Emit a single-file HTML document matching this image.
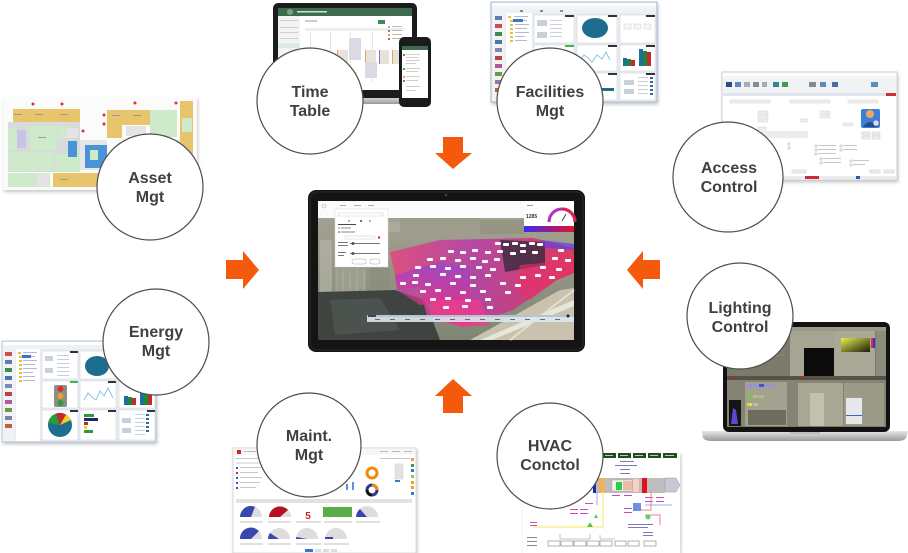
<!DOCTYPE html>
<html><head><meta charset="utf-8">
<style>
html,body{margin:0;padding:0;background:#fff;}
svg{display:block;}
text{font-family:"Liberation Sans",sans-serif;}
</style></head><body>
<svg width="908" height="553" viewBox="0 0 908 553" xmlns="http://www.w3.org/2000/svg">
<defs>
 <linearGradient id="bld" x1="0" y1="0" x2="1" y2="0">
  <stop offset="0" stop-color="#e8457e"/><stop offset=".45" stop-color="#b83aa8"/><stop offset="1" stop-color="#ea2a55"/>
 </linearGradient>
 <linearGradient id="bld2" x1="0" y1="0" x2="0" y2="1">
  <stop offset="0" stop-color="#8f48d8"/><stop offset="1" stop-color="#e0308a"/>
 </linearGradient>
 <linearGradient id="gbar" x1="0" x2="1"><stop offset="0" stop-color="#3a2cf0"/><stop offset="1" stop-color="#e8102a"/></linearGradient>
 <linearGradient id="sky" x1="0" y1="0" x2="0" y2="1"><stop offset="0" stop-color="#a8a596"/><stop offset="1" stop-color="#7f8574"/></linearGradient>
 <linearGradient id="silver" x1="0" y1="0" x2="0" y2="1"><stop offset="0" stop-color="#e6e6e6"/><stop offset="1" stop-color="#9a9a9a"/></linearGradient>
 <linearGradient id="lgbox" x1="0" y1="0" x2="1" y2="1"><stop offset="0" stop-color="#e8f04a"/><stop offset="1" stop-color="#1b1b10"/></linearGradient>
 <filter id="sh" x="-5%" y="-5%" width="115%" height="120%"><feDropShadow dx="1" dy="2" stdDeviation="1.5" flood-color="#000" flood-opacity=".22"/></filter>
</defs>

<!-- ===== Asset floor plan ===== -->
<g filter="url(#sh)"><rect x="3" y="97" width="194" height="93" fill="#fbfbfb"/></g>
<g>
 <rect x="8" y="122" width="72" height="50" fill="#d6dcd8"/>
 <rect x="13" y="109" width="67" height="13" fill="#e8c46c"/>
 <rect x="8" y="128" width="9" height="22" fill="#cfe9cb"/>
 <rect x="17" y="130" width="9" height="18" fill="#c9c4e6"/>
 <rect x="30" y="126" width="27" height="24" fill="#cfe9cb"/>
 <rect x="59" y="126" width="8" height="12" fill="#cfe9cb"/>
 <rect x="8" y="152" width="17" height="19" fill="#cfe9cb"/>
 <rect x="26" y="152" width="27" height="19" fill="#cfe9cb"/>
 <rect x="55" y="154" width="25" height="18" fill="#cfe9cb"/>
 <rect x="67" y="128" width="11" height="10" fill="#e4e4e4"/>
 <rect x="68" y="141" width="9" height="16" fill="#4a93d6"/>
 <rect x="8" y="173" width="42" height="14" fill="#cfe9cb"/>
 <rect x="53" y="173" width="47" height="14" fill="#e8c46c"/>
 <rect x="37" y="174" width="12" height="12" fill="#e4e4e4"/>
 <rect x="80" y="140" width="27" height="30" fill="#e6e6e6"/>
 <rect x="85" y="145" width="22" height="23" fill="#4a93d6"/>
 <rect x="90" y="150" width="8" height="10" fill="#cfe9cb"/>
 <rect x="107" y="110" width="60" height="15" fill="#e8c46c"/>
 <rect x="107" y="125" width="15" height="13" fill="#e8c46c"/>
 <rect x="126" y="126" width="20" height="10" fill="#e4e4e4"/>
 <rect x="150" y="110" width="27" height="27" fill="#cfe9cb"/>
 <rect x="152" y="140" width="28" height="30" fill="#cfe9cb"/>
 <rect x="110" y="150" width="20" height="20" fill="#e6e6e6"/>
 <rect x="180" y="101" width="13" height="88" fill="#e8c46c"/>
 <rect x="182" y="118" width="10" height="14" fill="#cfe9cb"/>
 <rect x="100" y="173" width="20" height="14" fill="#e8c46c"/>
 <g fill="#e03030"><circle cx="33" cy="104" r="1.5"/><circle cx="62" cy="104" r="1.5"/><circle cx="83" cy="131" r="1.5"/><circle cx="135" cy="103" r="1.5"/><circle cx="104" cy="115" r="1.5"/><circle cx="104" cy="124" r="1.5"/><circle cx="176" cy="103" r="1.5"/></g>
 <g fill="#999"><rect x="14" y="114" width="8" height="1"/><rect x="35" y="114" width="8" height="1"/><rect x="60" y="114" width="8" height="1"/><rect x="112" y="115" width="8" height="1"/><rect x="133" y="115" width="8" height="1"/><rect x="38" y="137" width="8" height="1"/><rect x="60" y="179" width="8" height="1"/></g>
</g>

<!-- ===== Time Table monitor ===== -->
<rect x="355" y="96" width="46" height="8" rx="2" fill="url(#silver)"/>
<rect x="273" y="3" width="144" height="95" rx="5" fill="#1c1c1c"/>
<rect x="278" y="8" width="134" height="82" fill="#ffffff"/>
<rect x="278" y="8" width="134" height="8" fill="#3d6b4d"/>
<circle cx="290" cy="12" r="3" fill="#7c9f86"/>
<rect x="297" y="11" width="30" height="1.5" fill="#cfe0d4"/>
<rect x="278" y="16" width="22" height="74" fill="#f3f3f3"/>
<g fill="#d0d0d0"><rect x="280" y="20" width="18" height="1"/><rect x="280" y="27" width="18" height="1"/><rect x="280" y="32" width="18" height="1"/><rect x="280" y="38" width="18" height="1"/></g>
<rect x="278" y="43" width="22" height="5" fill="#dcebe0"/>
<rect x="305" y="20" width="12" height="2" fill="#ccc"/>
<rect x="378" y="20" width="7" height="4" fill="#3d8a55"/>
<rect x="305" y="28" width="100" height="3" fill="#ededed"/>
<g fill="#e4e4e4"><rect x="310" y="32" width="1" height="50"/><rect x="330" y="32" width="1" height="50"/><rect x="350" y="32" width="1" height="50"/><rect x="372" y="32" width="1" height="50"/></g>
<rect x="349" y="38" width="12" height="22" fill="#dcd9e6"/>
<g fill="#e9e2dc"><rect x="337" y="50" width="11" height="14"/><rect x="365" y="50" width="11" height="14"/><rect x="379" y="50" width="10" height="14"/><rect x="392" y="50" width="10" height="14"/></g>
<g fill="#f0a050"><rect x="337" y="50" width="1" height="14"/><rect x="365" y="50" width="1" height="14"/><rect x="392" y="50" width="1" height="14"/></g>
<rect x="379" y="50" width="1" height="14" fill="#8a70c0"/>
<rect x="365" y="62" width="12" height="16" fill="#dcd9e6"/>
<rect x="345" y="72" width="12" height="10" fill="#e9e2dc"/>
<g><rect x="388" y="26" width="2" height="2" fill="#f0a050"/><rect x="388" y="30" width="2" height="2" fill="#8a70c0"/><rect x="388" y="34" width="2" height="2" fill="#f0a050"/><rect x="388" y="38" width="2" height="2" fill="#e05050"/><rect x="392" y="26" width="10" height="1" fill="#bbb"/><rect x="392" y="30" width="10" height="1" fill="#bbb"/><rect x="392" y="34" width="10" height="1" fill="#bbb"/><rect x="392" y="38" width="10" height="1" fill="#bbb"/></g>
<!-- phone -->
<rect x="399" y="37" width="32" height="70" rx="5" fill="#1b1b1b"/>
<rect x="402" y="46" width="26" height="52" fill="#fff"/>
<rect x="402" y="46" width="26" height="4" fill="#3d6b4d"/>
<g fill="#cfcfcf"><rect x="406" y="54" width="14" height="1"/><rect x="406" y="57" width="12" height="1"/><rect x="406" y="60" width="14" height="1"/><rect x="406" y="63" width="10" height="1"/><rect x="406" y="68" width="14" height="1"/><rect x="406" y="71" width="12" height="1"/><rect x="406" y="76" width="14" height="1"/><rect x="406" y="80" width="12" height="1"/><rect x="406" y="86" width="14" height="1"/><rect x="406" y="90" width="10" height="1"/></g>
<g fill="#4c9a60"><rect x="403" y="54" width="2" height="2"/><rect x="403" y="68" width="2" height="2"/><rect x="403" y="80" width="2" height="2"/></g>
<rect x="403" y="76" width="2" height="2" fill="#f0a050"/>

<!-- ===== Facilities screenshot ===== -->
<g filter="url(#sh)"><rect x="491" y="2" width="166" height="100" fill="#e9edf2" stroke="#a8bcd4" stroke-width="1"/></g>
<rect x="492" y="3" width="164" height="3" fill="#fff"/>
<rect x="492" y="6" width="164" height="3" fill="#f4f4f4"/>
<rect x="492" y="9" width="164" height="4" fill="#eef2f7"/>
<g fill="#6da06a"><rect x="520" y="10" width="3" height="2"/><rect x="540" y="10" width="3" height="2"/><rect x="560" y="10" width="3" height="2"/></g>
<rect x="492" y="13" width="13" height="88" fill="#f2f2f2"/>
<g><rect x="495" y="16" width="7" height="4" fill="#5a7db8"/><rect x="495" y="24" width="7" height="4" fill="#c85050"/><rect x="495" y="32" width="7" height="4" fill="#3a8a55"/><rect x="495" y="40" width="7" height="4" fill="#4a76b0"/><rect x="495" y="48" width="7" height="4" fill="#7a8ab0"/><rect x="495" y="56" width="7" height="4" fill="#c04040"/><rect x="495" y="64" width="7" height="4" fill="#b05a9a"/><rect x="495" y="72" width="7" height="4" fill="#6a9a4a"/><rect x="495" y="80" width="7" height="4" fill="#8080a0"/><rect x="495" y="88" width="7" height="4" fill="#c06040"/></g>
<rect x="506" y="13" width="26" height="88" fill="#fff"/>
<g fill="#e8c040"><rect x="508" y="16" width="3" height="2"/><rect x="510" y="20" width="3" height="2"/><rect x="510" y="24" width="3" height="2"/><rect x="510" y="28" width="3" height="2"/><rect x="510" y="32" width="3" height="2"/><rect x="510" y="36" width="3" height="2"/><rect x="510" y="40" width="3" height="2"/></g>
<g fill="#b8b8c8"><rect x="514" y="16" width="14" height="1"/><rect x="515" y="20" width="12" height="1"/><rect x="515" y="24" width="14" height="1"/><rect x="515" y="28" width="12" height="1"/><rect x="515" y="32" width="14" height="1"/><rect x="515" y="36" width="10" height="1"/><rect x="515" y="40" width="12" height="1"/></g>
<rect x="513" y="19" width="10" height="3" fill="#3a78d0"/>
<g fill="#fff" stroke="#d4d8de" stroke-width=".6">
 <rect x="534" y="15" width="40" height="28"/><rect x="577" y="15" width="40" height="28"/><rect x="620" y="15" width="35" height="28"/>
 <rect x="534" y="45" width="40" height="26"/><rect x="577" y="45" width="40" height="26"/><rect x="620" y="45" width="35" height="26"/>
 <rect x="534" y="73" width="40" height="27"/><rect x="577" y="73" width="40" height="27"/><rect x="620" y="73" width="35" height="27"/>
</g>
<g fill="#333"><rect x="565" y="15" width="9" height="2"/><rect x="608" y="15" width="9" height="2"/><rect x="646" y="15" width="9" height="2"/><rect x="608" y="45" width="9" height="2"/><rect x="646" y="45" width="9" height="2"/><rect x="608" y="73" width="9" height="2"/><rect x="646" y="73" width="9" height="2"/></g>
<rect x="565" y="45" width="9" height="2" fill="#3ab84a"/>
<g fill="#c8d0dc"><rect x="537" y="20" width="10" height="6"/><rect x="537" y="32" width="10" height="6"/><rect x="550" y="20" width="12" height="1"/><rect x="550" y="24" width="12" height="1"/><rect x="550" y="28" width="12" height="1"/><rect x="550" y="32" width="12" height="1"/><rect x="550" y="36" width="12" height="1"/></g>
<ellipse cx="595" cy="28" rx="13" ry="10" fill="#1d6e8e"/>
<g fill="#f4f6f8" stroke="#c8d0da" stroke-width=".5"><rect x="624" y="24" width="7" height="5"/><rect x="634" y="24" width="7" height="5"/><rect x="644" y="24" width="7" height="5"/></g>
<polyline points="580,60 584,55 588,58 592,62 597,55 602,59 606,52 610,60" fill="none" stroke="#8cc4e4" stroke-width="1"/>
<g><rect x="623" y="58" width="4" height="8" fill="#1f6f9a"/><rect x="627" y="59" width="4" height="7" fill="#1a8a3a"/><rect x="631" y="60" width="4" height="6" fill="#c8282a"/><rect x="639" y="49" width="4" height="17" fill="#1f6f9a"/><rect x="643" y="51" width="4" height="15" fill="#1a8a3a"/><rect x="647" y="52" width="4" height="14" fill="#c8282a"/></g>
<rect x="580" y="88" width="34" height="3" fill="#1d6e8e"/>
<g fill="#c8d0dc"><rect x="624" y="80" width="10" height="5"/><rect x="624" y="89" width="10" height="5"/><rect x="638" y="77" width="10" height="1"/><rect x="638" y="81" width="10" height="1"/><rect x="638" y="85" width="10" height="1"/><rect x="638" y="89" width="10" height="1"/><rect x="638" y="93" width="10" height="1"/></g>
<g fill="#3a60a0"><rect x="650" y="77" width="3" height="2"/><rect x="650" y="81" width="3" height="2"/><rect x="650" y="85" width="3" height="2"/><rect x="650" y="89" width="3" height="2"/><rect x="650" y="93" width="3" height="2"/></g>

<!-- ===== Access Control screenshot ===== -->
<g filter="url(#sh)"><rect x="722" y="72" width="175" height="108" fill="#fff" stroke="#c4c4c4" stroke-width=".8"/></g>
<rect x="723" y="76" width="173" height="3" fill="#f6f6f6"/>
<rect x="723" y="79" width="173" height="14" fill="#f1f2f4"/>
<g><rect x="726" y="82" width="6" height="5" fill="#2a4a8a"/><rect x="735" y="82" width="6" height="5" fill="#5a8ac0"/><rect x="744" y="82" width="6" height="5" fill="#aab"/><rect x="753" y="82" width="6" height="5" fill="#889"/><rect x="762" y="82" width="5" height="5" fill="#aaa"/><rect x="773" y="82" width="6" height="5" fill="#2a8a9a"/><rect x="782" y="82" width="6" height="5" fill="#3aa050"/><rect x="809" y="82" width="7" height="5" fill="#889"/><rect x="820" y="82" width="6" height="5" fill="#5a8ac0"/><rect x="832" y="82" width="6" height="5" fill="#4a6aa0"/><rect x="871" y="82" width="7" height="5" fill="#5a8ac0"/></g>
<rect x="723" y="93" width="173" height="3" fill="#dfe5ee"/>
<rect x="886" y="93" width="10" height="3" fill="#d03030"/>
<g fill="#eee" stroke="#ccc" stroke-width=".4"><rect x="730" y="100" width="40" height="3"/><rect x="790" y="100" width="40" height="3"/><rect x="848" y="100" width="30" height="3"/><rect x="758" y="111" width="10" height="3"/><rect x="758" y="115" width="10" height="3"/><rect x="758" y="119" width="10" height="3"/><rect x="800" y="119" width="8" height="3"/><rect x="820" y="111" width="10" height="3"/><rect x="820" y="115" width="10" height="3"/><rect x="843" y="123" width="10" height="3"/><rect x="758" y="127" width="8" height="3"/></g>
<rect x="758" y="131" width="50" height="7" fill="#ececec"/>
<rect x="861" y="109" width="19" height="19" rx="2" fill="#3c7fd8"/>
<circle cx="870" cy="114" r="4" fill="#f0a860"/>
<path d="M863 127 Q870 117 877 127 Z" fill="#234a8a"/>
<circle cx="876" cy="123" r="3" fill="#dde" stroke="#557" stroke-width=".5"/>
<g fill="#eee" stroke="#bbb" stroke-width=".4"><rect x="862" y="132" width="8" height="3"/><rect x="872" y="132" width="8" height="3"/><rect x="862" y="136" width="8" height="3"/><rect x="872" y="136" width="8" height="3"/></g>
<g fill="#fff" stroke="#999" stroke-width=".4"><rect x="815" y="145" width="2" height="2"/><rect x="815" y="149" width="2" height="2"/><rect x="815" y="153" width="2" height="2"/><rect x="840" y="145" width="2" height="2"/><rect x="840" y="149" width="2" height="2"/><rect x="820" y="158" width="2" height="2"/><rect x="820" y="162" width="2" height="2"/><rect x="850" y="160" width="2" height="2"/><rect x="850" y="164" width="2" height="2"/><rect x="788" y="143" width="2" height="2"/><rect x="788" y="147" width="2" height="2"/></g>
<g fill="#c8c8c8"><rect x="818" y="145" width="18" height="1"/><rect x="818" y="149" width="18" height="1"/><rect x="818" y="153" width="18" height="1"/><rect x="843" y="145" width="14" height="1"/><rect x="843" y="149" width="14" height="1"/><rect x="823" y="158" width="18" height="1"/><rect x="823" y="162" width="18" height="1"/><rect x="853" y="160" width="16" height="1"/><rect x="853" y="164" width="12" height="1"/></g>
<g fill="#eee" stroke="#bbb" stroke-width=".4"><rect x="870" y="170" width="10" height="3"/><rect x="884" y="170" width="10" height="3"/><rect x="792" y="170" width="14" height="3"/></g>
<rect x="723" y="176" width="173" height="3" fill="#e8ecf2"/>
<rect x="805" y="176" width="14" height="3" fill="#d02a3a"/>
<rect x="856" y="176" width="4" height="3" fill="#2a5ab0"/>

<!-- ===== Lighting laptop ===== -->
<path d="M702 431 L908 431 L906 438 Q904 441 898 441 L712 441 Q705 441 703 438 Z" fill="url(#silver)"/>
<rect x="790" y="431" width="30" height="3" rx="1.5" fill="#bbb"/>
<rect x="723" y="322" width="167" height="110" rx="6" fill="#121212"/>
<rect x="727" y="327" width="159" height="100" fill="#7b7a6b"/>
<rect x="727" y="327" width="159" height="4" fill="#9a9986"/>
<rect x="790" y="331" width="45" height="45" fill="#a6a493"/>
<rect x="804" y="348" width="30" height="30" fill="#0c0c0c"/>
<rect x="835" y="331" width="40" height="45" fill="#aaa896"/>
<rect x="841" y="338" width="29" height="14" fill="url(#lgbox)"/>
<rect x="871" y="338" width="2" height="10" fill="#e03030"/>
<rect x="873" y="338" width="2" height="10" fill="#3030e0"/>
<rect x="876" y="331" width="10" height="45" fill="#8e8c7c"/>
<rect x="727" y="376" width="159" height="4" fill="#555348"/>
<rect x="732" y="377" width="3" height="2" fill="#c02020"/>
<rect x="800" y="377" width="3" height="2" fill="#c02020"/>
<rect x="727" y="380" width="159" height="46" fill="#858373"/>
<rect x="745" y="382" width="42" height="44" fill="#a3a190"/>
<g fill="#9a90d8"><rect x="747" y="384" width="5" height="3"/><rect x="753" y="384" width="5" height="3"/><rect x="759" y="384" width="5" height="3" fill="#4050e0"/><rect x="765" y="384" width="5" height="3"/><rect x="771" y="384" width="5" height="3"/></g>
<g fill="#6ad040"><rect x="747" y="395" width="5" height="3"/><rect x="753" y="395" width="5" height="3" fill="#b0c080"/><rect x="759" y="395" width="5" height="3" fill="#b0c080"/></g>
<g fill="#d8e040"><rect x="747" y="403" width="5" height="3"/><rect x="753" y="403" width="5" height="3" fill="#c0c090"/></g>
<rect x="748" y="410" width="38" height="15" fill="#6d6c5f"/>
<rect x="729" y="400" width="12" height="26" fill="#151515"/>
<path d="M731 424 L733 408 L736 410 L738 424 Z" fill="#5a4ad0"/>
<rect x="798" y="383" width="45" height="43" fill="#a9a794"/>
<rect x="810" y="393" width="14" height="33" fill="#c2c0ae"/>
<rect x="844" y="383" width="40" height="43" fill="#9c9a88"/>
<rect x="846" y="398" width="16" height="26" fill="#e8e8ec"/>
<rect x="846" y="415" width="16" height="1" fill="#4060d0"/>
<g fill="#8a887a"><rect x="755" y="345" width="30" height="1"/><rect x="755" y="350" width="30" height="1"/><rect x="755" y="355" width="30" height="1"/></g>

<!-- ===== Energy screenshot ===== -->
<g filter="url(#sh)"><rect x="2" y="341" width="154" height="101" fill="#e9edf2" stroke="#a8bcd4" stroke-width=".8"/></g>
<rect x="3" y="342" width="152" height="3" fill="#fff"/>
<rect x="3" y="345" width="152" height="4" fill="#eef2f7"/>
<rect x="3" y="349" width="12" height="92" fill="#f2f2f2"/>
<g><rect x="5" y="352" width="7" height="4" fill="#c85050"/><rect x="5" y="360" width="7" height="4" fill="#5a7db8"/><rect x="5" y="368" width="7" height="4" fill="#3a8a55"/><rect x="5" y="376" width="7" height="4" fill="#4a76b0"/><rect x="5" y="384" width="7" height="4" fill="#7a8ab0"/><rect x="5" y="392" width="7" height="4" fill="#c04040"/><rect x="5" y="400" width="7" height="4" fill="#b05a9a"/><rect x="5" y="408" width="7" height="4" fill="#6a9a4a"/><rect x="5" y="416" width="7" height="4" fill="#8080a0"/><rect x="5" y="424" width="7" height="4" fill="#c06040"/></g>
<rect x="16" y="349" width="24" height="92" fill="#fff"/>
<g fill="#e8c040"><rect x="18" y="352" width="3" height="2"/><rect x="19" y="356" width="3" height="2"/><rect x="19" y="360" width="3" height="2"/><rect x="19" y="364" width="3" height="2"/><rect x="19" y="368" width="3" height="2"/><rect x="19" y="372" width="3" height="2"/><rect x="19" y="376" width="3" height="2"/><rect x="19" y="380" width="3" height="2"/></g>
<g fill="#b8b8c8"><rect x="23" y="352" width="14" height="1"/><rect x="23" y="356" width="12" height="1"/><rect x="23" y="360" width="14" height="1"/><rect x="23" y="364" width="12" height="1"/><rect x="23" y="368" width="14" height="1"/><rect x="23" y="372" width="10" height="1"/><rect x="23" y="376" width="12" height="1"/><rect x="23" y="380" width="12" height="1"/></g>
<rect x="22" y="355" width="9" height="3" fill="#3a78d0"/>
<g fill="#fff" stroke="#d4d8de" stroke-width=".6">
 <rect x="42" y="351" width="36" height="28"/><rect x="80" y="351" width="36" height="28"/><rect x="119" y="351" width="36" height="28"/>
 <rect x="42" y="381" width="36" height="27"/><rect x="80" y="381" width="36" height="27"/><rect x="119" y="381" width="36" height="27"/>
 <rect x="42" y="410" width="36" height="30"/><rect x="80" y="410" width="36" height="30"/><rect x="119" y="410" width="36" height="30"/>
</g>
<g fill="#333"><rect x="70" y="351" width="8" height="2"/><rect x="108" y="351" width="8" height="2"/><rect x="108" y="381" width="8" height="2"/><rect x="147" y="381" width="8" height="2"/><rect x="70" y="410" width="8" height="2"/><rect x="108" y="410" width="8" height="2"/><rect x="147" y="410" width="8" height="2"/></g>
<rect x="70" y="381" width="8" height="2" fill="#3ab84a"/>
<g fill="#c8d0dc"><rect x="45" y="356" width="8" height="5"/><rect x="45" y="368" width="8" height="5"/><rect x="57" y="355" width="12" height="1"/><rect x="57" y="359" width="12" height="1"/><rect x="57" y="363" width="12" height="1"/><rect x="57" y="367" width="12" height="1"/><rect x="57" y="371" width="12" height="1"/><rect x="57" y="375" width="12" height="1"/></g>
<ellipse cx="97" cy="366" rx="12" ry="10" fill="#1d6e8e"/>
<rect x="54" y="385" width="13" height="22" rx="2" fill="#8a8f8a"/>
<circle cx="60.5" cy="389" r="3" fill="#d83030"/><circle cx="60.5" cy="396" r="3" fill="#f0a020"/><circle cx="60.5" cy="403" r="3" fill="#2a9a3a"/>
<polyline points="84,400 88,393 92,397 96,400 100,391 104,396 108,388 113,398" fill="none" stroke="#8cc4e4" stroke-width="1"/>
<g><rect x="124" y="396" width="4" height="9" fill="#1f6f9a"/><rect x="128" y="397" width="4" height="8" fill="#1a8a3a"/><rect x="132" y="398" width="4" height="7" fill="#c8282a"/><rect x="140" y="393" width="4" height="12" fill="#1f6f9a"/><rect x="144" y="394" width="4" height="11" fill="#1a8a3a"/><rect x="148" y="395" width="4" height="10" fill="#c8282a"/></g>
<circle cx="60" cy="425" r="12" fill="#1d6e8e"/>
<path d="M60 425 L48 423 A12 12 0 0 1 56 413.6 Z" fill="#2a9a3a"/>
<path d="M60 425 L56 413.6 A12 12 0 0 1 66 414.6 Z" fill="#c8282a"/>
<path d="M60 425 L66 414.6 A12 12 0 0 1 71 420 Z" fill="#f0d020"/>
<g><rect x="84" y="414" width="10" height="3" fill="#2a9a3a"/><rect x="84" y="418" width="14" height="3" fill="#1a2a6a"/><rect x="84" y="422" width="4" height="3" fill="#c8282a"/><rect x="84" y="426" width="3" height="3" fill="#f0d020"/><rect x="84" y="430" width="9" height="3" fill="#2a9a3a"/></g>
<g fill="#c8d0dc"><rect x="122" y="418" width="9" height="5"/><rect x="122" y="428" width="9" height="5"/><rect x="135" y="414" width="10" height="1"/><rect x="135" y="418" width="10" height="1"/><rect x="135" y="422" width="10" height="1"/><rect x="135" y="426" width="10" height="1"/><rect x="135" y="430" width="10" height="1"/><rect x="135" y="434" width="10" height="1"/></g>
<g fill="#3a60a0"><rect x="146" y="414" width="3" height="2"/><rect x="146" y="418" width="3" height="2"/><rect x="146" y="422" width="3" height="2"/><rect x="146" y="426" width="3" height="2"/><rect x="146" y="430" width="3" height="2"/></g>

<!-- ===== Maint screenshot ===== -->
<g filter="url(#sh)"><rect x="233" y="448" width="183" height="105" fill="#fff" stroke="#cfcfcf" stroke-width=".8"/></g>
<rect x="234" y="449" width="181" height="6" fill="#f6f6f6"/>
<rect x="237" y="450" width="4" height="4" fill="#c82828"/>
<g fill="#bbb"><rect x="244" y="451" width="12" height="1"/><rect x="380" y="451" width="8" height="1"/><rect x="392" y="451" width="8" height="1"/><rect x="404" y="451" width="8" height="1"/></g>
<g fill="#c8c8c8"><rect x="236" y="458" width="30" height="1"/><rect x="380" y="458" width="30" height="1"/></g>
<rect x="236" y="462" width="35" height="2" fill="#e6e6e6"/>
<g><rect x="236" y="467" width="2" height="2" fill="#3a50c0"/><rect x="236" y="472" width="2" height="2" fill="#c82828"/><rect x="236" y="477" width="2" height="2" fill="#3a50c0"/><rect x="236" y="482" width="2" height="2" fill="#3a50c0"/><rect x="236" y="487" width="2" height="2" fill="#3a50c0"/></g>
<g fill="#c8c8c8"><rect x="240" y="467" width="22" height="1"/><rect x="240" y="472" width="18" height="1"/><rect x="240" y="477" width="22" height="1"/><rect x="240" y="482" width="20" height="1"/><rect x="240" y="487" width="16" height="1"/></g>
<circle cx="372" cy="473" r="5" fill="none" stroke="#f08a10" stroke-width="3"/>
<circle cx="372" cy="490" r="5" fill="none" stroke="#2a3a8a" stroke-width="3"/>
<path d="M372 485 A5 5 0 0 1 377 490" fill="none" stroke="#f08a10" stroke-width="3"/>
<path d="M367 490 A5 5 0 0 0 372 495" fill="none" stroke="#111" stroke-width="3"/>
<g fill="#5a90d8"><rect x="346" y="484" width="2" height="6"/><rect x="352" y="482" width="2" height="8"/></g>
<g fill="#e8e8e8" stroke="#bbb" stroke-width=".4"><rect x="395" y="464" width="8" height="3"/><rect x="395" y="468" width="8" height="3"/><rect x="395" y="472" width="8" height="3"/><rect x="395" y="476" width="8" height="3"/></g>
<rect x="395" y="480" width="5" height="2" fill="#3a78d0"/>
<g><rect x="411" y="458" width="3" height="3" fill="#f0a020"/><rect x="411" y="464" width="3" height="3" fill="#2aa050"/><rect x="411" y="469" width="3" height="3" fill="#3a78d0"/><rect x="411" y="475" width="3" height="3" fill="#9ac040"/><rect x="411" y="481" width="3" height="3" fill="#f0a020"/><rect x="411" y="486" width="3" height="3" fill="#f0a020"/><rect x="411" y="492" width="3" height="3" fill="#3a78d0"/></g>
<rect x="236" y="499" width="176" height="4" fill="#e2e2e2"/>
<g>
 <path d="M240 517 A11 11 0 0 1 262 517 Z" fill="#ddd"/><path d="M240 517 A11 11 0 0 1 255 506.7 L251 517 Z" fill="#3a45b0"/>
 <path d="M269 517 A11 11 0 0 1 291 517 Z" fill="#ddd"/><path d="M269 517 A11 11 0 0 1 288 510 L280 517 Z" fill="#b81020"/>
 <text x="308" y="519" font-size="10" font-weight="bold" fill="#c82828" text-anchor="middle">5</text>
 <rect x="323" y="507" width="29" height="10" fill="#5aae4a"/>
 <path d="M356 517 A11 11 0 0 1 378 517 Z" fill="#ddd"/><path d="M356 517 A11 11 0 0 1 360 509 L367 517 Z" fill="#3a45b0"/>
</g>
<g fill="#e0e0e0"><rect x="240" y="521" width="23" height="2"/><rect x="268" y="521" width="23" height="2"/><rect x="296" y="521" width="25" height="2"/><rect x="324" y="521" width="28" height="2"/><rect x="356" y="521" width="24" height="2"/></g>
<g>
 <path d="M240 539 A11 11 0 0 1 262 539 Z" fill="#ddd"/><path d="M240 539 A11 11 0 0 1 259 531 L251 539 Z" fill="#3a45b0"/>
 <path d="M268 539 A11 11 0 0 1 290 539 Z" fill="#ddd"/><path d="M268 539 A11 11 0 0 1 270 533 L279 539 Z" fill="#3a45b0"/>
 <path d="M296 539 A11 11 0 0 1 318 539 Z" fill="#ddd"/><path d="M296 539 L296.3 537 L307 539 Z" fill="#3a45b0"/>
 <path d="M325 539 A11 11 0 0 1 347 539 Z" fill="#ddd"/><rect x="325" y="537" width="8" height="2" fill="#3a45b0"/>
</g>
<g fill="#e0e0e0"><rect x="240" y="543" width="23" height="2"/><rect x="268" y="543" width="23" height="2"/><rect x="296" y="543" width="25" height="2"/><rect x="324" y="543" width="25" height="2"/></g>
<rect x="305" y="549" width="8" height="3" fill="#3a78d0"/>
<g fill="#ddd"><rect x="315" y="549" width="6" height="3"/><rect x="323" y="549" width="6" height="3"/><rect x="331" y="549" width="6" height="3"/></g>

<!-- ===== HVAC screenshot ===== -->
<g filter="url(#sh)"><rect x="523" y="452" width="157" height="101" fill="#fff"/></g>
<g fill="#244a24"><rect x="603" y="453" width="13" height="5"/><rect x="618" y="453" width="13" height="5"/><rect x="633" y="453" width="13" height="5"/><rect x="648" y="453" width="13" height="5"/><rect x="663" y="453" width="14" height="5"/></g>
<g fill="#b0d0b0"><rect x="605" y="455" width="8" height="1"/><rect x="620" y="455" width="8" height="1"/><rect x="635" y="455" width="8" height="1"/><rect x="650" y="455" width="8" height="1"/><rect x="665" y="455" width="9" height="1"/></g>
<g fill="#7a7ab8"><rect x="620" y="461" width="14" height="1"/><rect x="615" y="465" width="22" height="1"/><rect x="620" y="469" width="10" height="1"/><rect x="620" y="473" width="10" height="1"/></g>
<rect x="593" y="478" width="72" height="15" fill="#bdbdbd"/>
<path d="M665 478 L676 478 L680 485 L676 492 L665 492 Z" fill="#c8c8d8" stroke="#99a" stroke-width=".5"/>
<rect x="593" y="478" width="3" height="15" fill="#1a2ab0"/>
<rect x="599" y="478" width="6" height="15" fill="#f0b060"/>
<rect x="612" y="480" width="20" height="11" fill="#f4f4f4" stroke="#999" stroke-width=".4"/>
<rect x="616" y="482" width="6" height="8" fill="#2ad040"/>
<rect x="623" y="481" width="9" height="9" fill="#f0b8a8"/>
<rect x="633" y="479" width="6" height="13" fill="#f8d0c0"/>
<rect x="642" y="478" width="5" height="15" fill="#e01020"/>
<g fill="#c050c0"><rect x="612" y="495" width="8" height="1"/><rect x="624" y="495" width="8" height="1"/><rect x="645" y="497" width="8" height="1"/><rect x="656" y="497" width="8" height="1"/><rect x="645" y="501" width="8" height="1"/><rect x="656" y="501" width="8" height="1"/></g>
<polyline points="651,492 651,510 640,510" fill="none" stroke="#f08080" stroke-width="1"/>
<polyline points="645,515 660,515 660,525" fill="none" stroke="#f08080" stroke-width="1"/>
<rect x="633" y="503" width="8" height="8" fill="#6a90e0"/>
<path d="M645 505 L672 505" stroke="#8090e0" stroke-width=".8"/>
<circle cx="648" cy="517" r="2.5" fill="#60d060"/>
<path d="M603 492 L603 527 L533 527" fill="none" stroke="#f8f090" stroke-width="1.5"/>
<path d="M597 492 L597 505" fill="none" stroke="#a0a0f0" stroke-width="1"/>
<path d="M594 518 L596 514 L598 518 Z" fill="#60c060"/>
<path d="M587 527 L590 522 L593 527 Z" fill="#60c060"/>
<g fill="#c050c0"><rect x="570" y="509" width="8" height="1"/><rect x="580" y="509" width="8" height="1"/><rect x="570" y="513" width="8" height="1"/><rect x="580" y="513" width="8" height="1"/><rect x="585" y="503" width="8" height="1"/><rect x="530" y="522" width="7" height="1"/><rect x="530" y="525" width="7" height="1"/><rect x="624" y="508" width="8" height="1"/><rect x="624" y="512" width="8" height="1"/></g>
<g fill="#7a7ab8"><rect x="628" y="524" width="25" height="1"/><rect x="628" y="527" width="20" height="1"/><rect x="643" y="532" width="10" height="1"/><rect x="643" y="535" width="10" height="1"/></g>
<g fill="none" stroke="#888" stroke-width=".5"><path d="M560 534 L560 539 L590 539 L590 534"/><path d="M600 535 L600 539 L615 539"/></g>
<g fill="#fff" stroke="#666" stroke-width=".5"><rect x="548" y="541" width="12" height="5"/><rect x="561" y="541" width="12" height="5"/><rect x="574" y="541" width="12" height="5"/><rect x="587" y="541" width="12" height="5"/><rect x="600" y="541" width="12" height="5"/><rect x="615" y="541" width="11" height="5"/><rect x="628" y="541" width="11" height="5"/><rect x="644" y="541" width="12" height="5"/></g>
<g fill="#888"><rect x="527" y="537" width="10" height="1"/><rect x="527" y="541" width="10" height="1"/><rect x="527" y="545" width="10" height="1"/></g>

<!-- ===== Central tablet ===== -->
<rect x="308" y="190" width="277" height="162" rx="8" fill="#141414"/>
<rect x="310" y="192" width="273" height="158" rx="7" fill="none" stroke="#2a2a2a" stroke-width="1"/>
<circle cx="446" cy="195" r="1.3" fill="#444"/>
<rect x="318" y="201" width="256" height="139" fill="url(#sky)"/>
<!-- textures aerial -->
<g opacity=".55">
 <rect x="340" y="222" width="60" height="10" fill="#b8b3a2"/>
 <rect x="400" y="218" width="80" height="12" fill="#9d9a88"/>
 <rect x="480" y="220" width="45" height="14" fill="#8e8b79"/>
 <rect x="320" y="240" width="12" height="60" fill="#bdbcaf"/>
 <rect x="336" y="268" width="30" height="30" fill="#a7a798"/>
 <rect x="370" y="268" width="20" height="20" fill="#8a8d7c"/>
</g>
<g stroke="#c9c7bb" stroke-width=".6" opacity=".7">
 <line x1="336" y1="270" x2="336" y2="298"/><line x1="343" y1="270" x2="343" y2="298"/><line x1="350" y1="270" x2="350" y2="298"/><line x1="357" y1="270" x2="357" y2="298"/><line x1="364" y1="270" x2="364" y2="298"/>
</g>
<path d="M318 292 L395 290 L425 300 L440 340 L318 340 Z" fill="#3f4441"/>
<path d="M330 300 L380 298 L400 330 L335 335 Z" fill="#4c524e"/>
<path d="M470 340 L560 290 L574 288 L574 340 Z" fill="#c8c2ae"/>
<path d="M480 340 L574 300 L574 306 L492 340 Z" fill="#e8e6da"/>
<!-- buildings -->
<path d="M390 252 L440 240 L533 238 L574 248 L574 273 L557 280 L513 310 L463 327 L427 317 L420 287 L397 290 L395 275 Z" fill="url(#bld)" opacity=".85"/>
<path d="M395 275 L440 262 L470 268 L470 300 L420 305 L397 290 Z" fill="url(#bld2)" opacity=".7"/>
<path d="M500 240 L545 242 L545 265 L505 272 Z" fill="#2e2a3a" opacity=".75"/>
<path d="M520 265 L574 260 L574 273 L557 280 L530 300 L515 290 Z" fill="#e8306a" opacity=".6"/>
<path d="M430 300 L480 300 L490 325 L463 327 L435 320 Z" fill="#f03a8a" opacity=".75"/>
<path d="M540 240 L574 244 L574 250 L545 248 Z" fill="#6040e0" opacity=".7"/>
<g fill="#fff">
 <rect x="495" y="242" width="6" height="3" rx="1"/><rect x="503" y="243" width="6" height="3" rx="1"/><rect x="512" y="242" width="6" height="3" rx="1"/><rect x="520" y="244" width="6" height="3" rx="1"/><rect x="529" y="242" width="6" height="3" rx="1"/><rect x="537" y="243" width="6" height="3" rx="1"/>
 <rect x="448" y="250" width="6" height="3" rx="1"/><rect x="460" y="251" width="6" height="3" rx="1"/><rect x="472" y="249" width="6" height="3" rx="1"/><rect x="485" y="251" width="6" height="3" rx="1"/><rect x="497" y="250" width="6" height="3" rx="1"/><rect x="510" y="252" width="6" height="3" rx="1"/><rect x="520" y="250" width="6" height="3" rx="1"/><rect x="532" y="251" width="6" height="3" rx="1"/><rect x="558" y="249" width="6" height="3" rx="1"/>
 <rect x="427" y="258" width="6" height="3" rx="1"/><rect x="440" y="257" width="6" height="3" rx="1"/><rect x="455" y="259" width="6" height="3" rx="1"/><rect x="470" y="257" width="6" height="3" rx="1"/><rect x="482" y="260" width="6" height="3" rx="1"/><rect x="494" y="258" width="6" height="3" rx="1"/><rect x="552" y="257" width="6" height="3" rx="1"/><rect x="565" y="259" width="6" height="3" rx="1"/>
 <rect x="415" y="266" width="6" height="3" rx="1"/><rect x="430" y="265" width="6" height="3" rx="1"/><rect x="445" y="267" width="6" height="3" rx="1"/><rect x="460" y="265" width="6" height="3" rx="1"/><rect x="476" y="266" width="6" height="3" rx="1"/><rect x="490" y="268" width="6" height="3" rx="1"/><rect x="540" y="266" width="6" height="3" rx="1"/><rect x="556" y="268" width="6" height="3" rx="1"/>
 <rect x="413" y="274" width="6" height="3" rx="1"/><rect x="440" y="273" width="6" height="3" rx="1"/><rect x="455" y="275" width="6" height="3" rx="1"/><rect x="470" y="276" width="6" height="3" rx="1"/><rect x="485" y="274" width="6" height="3" rx="1"/><rect x="520" y="276" width="6" height="3" rx="1"/><rect x="535" y="274" width="6" height="3" rx="1"/><rect x="549" y="276" width="6" height="3" rx="1"/>
 <rect x="400" y="282" width="6" height="3" rx="1"/><rect x="412" y="281" width="6" height="3" rx="1"/><rect x="425" y="283" width="6" height="3" rx="1"/><rect x="450" y="282" width="6" height="3" rx="1"/><rect x="470" y="284" width="6" height="3" rx="1"/><rect x="500" y="282" width="6" height="3" rx="1"/><rect x="515" y="284" width="6" height="3" rx="1"/>
 <rect x="420" y="290" width="6" height="3" rx="1"/><rect x="435" y="289" width="6" height="3" rx="1"/><rect x="460" y="291" width="6" height="3" rx="1"/><rect x="480" y="290" width="6" height="3" rx="1"/><rect x="505" y="291" width="6" height="3" rx="1"/>
 <rect x="430" y="298" width="6" height="3" rx="1"/><rect x="445" y="297" width="6" height="3" rx="1"/><rect x="465" y="299" width="6" height="3" rx="1"/><rect x="485" y="298" width="6" height="3" rx="1"/>
 <rect x="443" y="306" width="6" height="3" rx="1"/><rect x="462" y="305" width="6" height="3" rx="1"/><rect x="487" y="306" width="6" height="3" rx="1"/>
</g>
<path d="M510 340 L574 290" stroke="#e4e0d0" stroke-width="2"/>
<!-- timeline -->
<rect x="367" y="315" width="207" height="7" fill="#dde6ee" opacity=".9"/>
<rect x="367" y="315" width="207" height="2" fill="#b8c4d0"/>
<g fill="#667"><rect x="375" y="319" width="5" height="1"/><rect x="390" y="319" width="5" height="1"/><rect x="405" y="319" width="5" height="1"/><rect x="420" y="319" width="5" height="1"/><rect x="435" y="319" width="5" height="1"/><rect x="450" y="319" width="5" height="1"/><rect x="465" y="319" width="5" height="1"/><rect x="480" y="319" width="5" height="1"/><rect x="495" y="319" width="5" height="1"/><rect x="510" y="319" width="5" height="1"/><rect x="525" y="319" width="5" height="1"/><rect x="540" y="319" width="5" height="1"/><rect x="555" y="319" width="5" height="1"/></g>
<rect x="368" y="315" width="8" height="2" fill="#445"/>
<circle cx="568" cy="316" r="1.5" fill="#222"/>
<!-- top bar -->
<rect x="318" y="201" width="256" height="17" fill="#fbfbfb"/>
<circle cx="324" cy="206" r="2" fill="none" stroke="#aaa" stroke-width=".6"/>
<g fill="#aaa"><rect x="340" y="205" width="6" height="1"/><rect x="354" y="205" width="7" height="1"/><rect x="368" y="205" width="6" height="1"/></g>
<!-- left panel -->
<rect x="335" y="209" width="53" height="58" fill="#fff" stroke="#d8d8d8" stroke-width=".5"/>
<rect x="338" y="213" width="45" height="3" fill="#fff" stroke="#bbb" stroke-width=".4"/>
<g fill="#999"><circle cx="349" cy="221" r="1"/><circle cx="361" cy="221" r="1" fill="#444"/><circle cx="370" cy="221" r="1"/></g>
<rect x="338" y="224" width="18" height="1" fill="#445"/>
<g fill="#888"><circle cx="339" cy="228" r=".8"/><circle cx="339" cy="232" r=".8" fill="#333"/><rect x="341" y="227.5" width="10" height="1"/><rect x="341" y="231.5" width="14" height="1"/></g>
<rect x="345" y="236" width="30" height="3" fill="#fff" stroke="#bbb" stroke-width=".4"/>
<circle cx="379" cy="237.5" r="1.2" fill="#d03030"/>
<g fill="#777"><rect x="338" y="242" width="10" height="1"/><rect x="338" y="245" width="10" height="1"/><rect x="338" y="252" width="8" height="1"/><rect x="338" y="255" width="6" height="1"/></g>
<rect x="350" y="243" width="30" height="1" fill="#777"/><circle cx="353" cy="243.5" r="1.5" fill="#555"/>
<rect x="350" y="253" width="30" height="1" fill="#777"/><circle cx="353" cy="253.5" r="1.5" fill="#555"/>
<rect x="352" y="259" width="14" height="5" rx="2" fill="#fff" stroke="#888" stroke-width=".4"/>
<rect x="370" y="259" width="10" height="5" rx="2" fill="#fff" stroke="#888" stroke-width=".4"/>
<!-- gauge box -->
<rect x="524" y="201" width="50" height="31" fill="#fff"/>
<rect x="527" y="205" width="6" height="1" fill="#999"/>
<text x="526" y="218" font-size="5" font-weight="bold" fill="#333">1285</text>
<path d="M549 222 A13 13 0 0 1 575 222" fill="none" stroke="#b030c0" stroke-width="3"/>
<path d="M562 209 A13 13 0 0 1 575 222" fill="none" stroke="#e02050" stroke-width="3"/>
<line x1="562" y1="221" x2="566" y2="214" stroke="#222" stroke-width=".8"/>
<rect x="524" y="226" width="50" height="6" fill="url(#gbar)"/>

<!-- ===== Arrows ===== -->
<g fill="#f4590c">
 <path d="M443 137 L463 137 L463 153 L472 153 L453 169 L435 153 L443 153 Z"/>
 <path d="M443 413 L463 413 L463 396 L472 396 L453 379 L435 396 L443 396 Z"/>
 <path d="M226 260 L243 260 L243 251 L259 270 L243 289 L243 279 L226 279 Z"/>
 <path d="M660 260 L643 260 L643 251 L627 270 L643 289 L643 279 L660 279 Z"/>
</g>

<!-- ===== Circles ===== -->
<g fill="#fff" stroke="#4d4d4d" stroke-width="1.2">
 <circle cx="310" cy="101" r="53"/>
 <circle cx="550" cy="101" r="53"/>
 <circle cx="150" cy="187" r="53"/>
 <circle cx="728" cy="177" r="55"/>
 <circle cx="740" cy="316" r="53"/>
 <circle cx="156" cy="342" r="53"/>
 <circle cx="309" cy="445" r="52"/>
 <circle cx="550" cy="456" r="53"/>
</g>
<g font-size="16" font-weight="bold" fill="#404040" text-anchor="middle">
 <text x="310" y="97">Time</text><text x="310" y="116">Table</text>
 <text x="550" y="97">Facilities</text><text x="550" y="116">Mgt</text>
 <text x="150" y="183">Asset</text><text x="150" y="202">Mgt</text>
 <text x="729" y="173">Access</text><text x="729" y="192">Control</text>
 <text x="740" y="313">Lighting</text><text x="740" y="332">Control</text>
 <text x="156" y="337">Energy</text><text x="156" y="356">Mgt</text>
 <text x="309" y="441">Maint.</text><text x="309" y="460">Mgt</text>
 <text x="550" y="451">HVAC</text><text x="550" y="470">Conctol</text>
</g>
</svg>
</body></html>
